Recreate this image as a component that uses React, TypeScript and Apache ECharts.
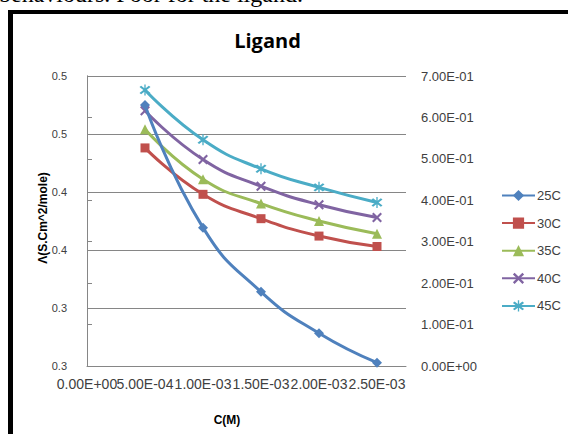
import React, { useEffect, useRef } from "react";
import * as echarts from "echarts";

// ---- data ----
const concentrations = [0.0005, 0.001, 0.0015, 0.002, 0.0025];
const seriesNames = ["25C", "30C", "35C", "40C", "45C"];
const values25C = [0.63, 0.334, 0.179, 0.079, 0.008]; // secondary (right) axis
const values30C = [0.438, 0.398, 0.377, 0.362, 0.353];
const values35C = [0.454, 0.411, 0.39, 0.375, 0.364];
const values40C = [0.47, 0.428, 0.405, 0.389, 0.378];
const values45C = [0.488, 0.445, 0.42, 0.404, 0.391];

const xTicks = [0, 0.0005, 0.001, 0.0015, 0.002, 0.0025];
const xAxisRange = { min: 0, max: 0.00275, step: 0.0005 };
const leftAxis = { min: 0.25, max: 0.5, step: 0.05 };
const rightAxis = { min: 0, max: 0.7, step: 0.1 };

const colors = ["#4F81BD", "#C0504D", "#9BBB59", "#8064A2", "#4BACC6"];

const xPath =
  "path://M0,1.5L1.5,0L5,3.5L8.5,0L10,1.5L6.5,5L10,8.5L8.5,10L5,6.5L1.5,10L0,8.5L3.5,5Z";
const starPath =
  "path://M0,1.5L1.5,0L5,3.5L8.5,0L10,1.5L6.5,5L10,8.5L8.5,10L5,6.5L1.5,10L0,8.5L3.5,5Z M4.4,-1.5L5.6,-1.5L5.6,11.5L4.4,11.5Z";

function sci(v: number): string {
  const s = v.toExponential(2);
  const [m, e] = s.split("e");
  const sign = e[0] === "-" ? "-" : "+";
  const digits = e.replace(/[+-]/, "").padStart(2, "0");
  return m + "E" + sign + digits;
}

function oneDecimal(v: number): string {
  return (Math.round(v * 10 + 1e-9) / 10).toFixed(1);
}

const isTick = (v: number) => xTicks.some((t) => Math.abs(t - v) < 1e-9);

const labelColor = "#404040";
const axisGray = "#868686";
const sans = "'Liberation Sans', Arial, sans-serif";

export default function App() {
  const ref = useRef<HTMLDivElement>(null);
  useEffect(() => {
    if (!ref.current) return;
    const chart = echarts.init(ref.current, undefined, { renderer: "svg" });
    const allValues = [values25C, values30C, values35C, values40C, values45C];
    const symbols = ["diamond", "rect", "triangle", xPath, starPath];
    const symbolSizes = [10, 9, 10, 10, 11];
    const series = allValues.map((vals, i) => ({
      name: seriesNames[i],
      type: "line",
      xAxisIndex: 0,
      yAxisIndex: i === 0 ? 1 : 0,
      data: concentrations.map((c, k) => [c, vals[k]]),
      smooth: 0.5,
      symbol: symbols[i],
      symbolSize: symbolSizes[i],
      showSymbol: true,
      lineStyle: { color: colors[i], width: 3 },
      itemStyle: { color: colors[i], borderWidth: 0 },
      z: 10 - i,
    }));

    const xLabelBase = {
      margin: 11,
      color: labelColor,
      fontSize: 14,
      fontFamily: sans,
      hideOverlap: false,
    };

    chart.setOption({
      animation: false,
      backgroundColor: "#ffffff",
      grid: { left: 87, right: 162, top: 76, bottom: 68, containLabel: false },
      xAxis: [
        {
          type: "value",
          position: "bottom",
          min: xAxisRange.min,
          max: xAxisRange.max,
          interval: xAxisRange.step,
          axisLine: { show: true, lineStyle: { color: axisGray, width: 1 } },
          axisTick: { show: false },
          splitLine: { show: false },
          axisLabel: {
            ...xLabelBase,
            showMinLabel: false,
            formatter: (v: number) => (isTick(v) && v !== 0 ? sci(v) : ""),
          },
        },
        {
          type: "value",
          position: "bottom",
          min: xAxisRange.min,
          max: xAxisRange.max,
          interval: xAxisRange.step,
          axisLine: { show: false },
          axisTick: { show: false },
          splitLine: { show: false },
          axisLabel: {
            ...xLabelBase,
            showMinLabel: true,
            formatter: (v: number) => (Math.abs(v) < 1e-12 ? sci(0) : ""),
          },
        },
      ],
      yAxis: [
        {
          type: "value",
          position: "left",
          min: leftAxis.min,
          max: leftAxis.max,
          interval: leftAxis.step,
          axisLine: { show: true, lineStyle: { color: axisGray, width: 1 } },
          axisTick: { show: false },
          splitLine: { show: true, lineStyle: { color: axisGray, width: 1 } },
          axisLabel: {
            margin: 20,
            color: labelColor,
            fontSize: 11,
            fontFamily: sans,
            showMinLabel: true,
            showMaxLabel: true,
            formatter: (v: number) => oneDecimal(v),
          },
        },
        {
          type: "value",
          position: "right",
          min: rightAxis.min,
          max: rightAxis.max,
          interval: rightAxis.step,
          axisLine: { show: true, lineStyle: { color: axisGray, width: 1 } },
          axisTick: { show: true, inside: false, length: 5, lineStyle: { color: axisGray } },
          splitLine: { show: false },
          axisLabel: {
            margin: 15,
            color: labelColor,
            fontSize: 13,
            fontFamily: sans,
            showMinLabel: true,
            showMaxLabel: true,
            formatter: (v: number) => sci(v),
          },
        },
      ],
      legend: {
        orient: "vertical",
        left: 496,
        top: 184,
        itemWidth: 33,
        itemHeight: 14,
        itemGap: 14.6,
        data: seriesNames,
        textStyle: { color: labelColor, fontSize: 13, fontFamily: sans, padding: [0, 0, 0, -3] },
      },
      graphic: [
        {
          type: "text",
          left: -1,
          top: -18,
          style: {
            text: "behaviours. Poor for the ligand.",
            fontFamily: "'Liberation Serif', 'Times New Roman', serif",
            fontSize: 24,
            fill: "#000",
          },
        },
        { type: "rect", shape: { x: 8, y: 10, width: 560, height: 4 }, style: { fill: "#000" } },
        { type: "rect", shape: { x: 8, y: 10, width: 5, height: 424 }, style: { fill: "#000" } },
        {
          type: "text",
          x: 267.5,
          y: 40,
          style: {
            text: "Ligand",
            fontFamily: "'Open Sans', 'Noto Sans', sans-serif",
            fontWeight: "bold",
            fontSize: 20,
            fill: "#000",
            align: "center",
            verticalAlign: "middle",
          },
        },
        {
          type: "text",
          x: 43,
          y: 218,
          rotation: Math.PI / 2,
          style: {
            text: "Λ(S.Cm^2/mole)",
            fontFamily: sans,
            fontWeight: "bold",
            fontSize: 12,
            fill: "#000",
            align: "center",
            verticalAlign: "middle",
          },
        },
        {
          type: "text",
          x: 227,
          y: 420,
          style: {
            text: "C(M)",
            fontFamily: sans,
            fontWeight: "bold",
            fontSize: 12,
            fill: "#000",
            align: "center",
            verticalAlign: "middle",
          },
        },
      ],
      series,
    });
    return () => chart.dispose();
  }, []);
  return (
    <div
      ref={ref}
      style={{ position: "fixed", left: 0, top: 0, width: 568, height: 434, background: "#fff" }}
    />
  );
}
